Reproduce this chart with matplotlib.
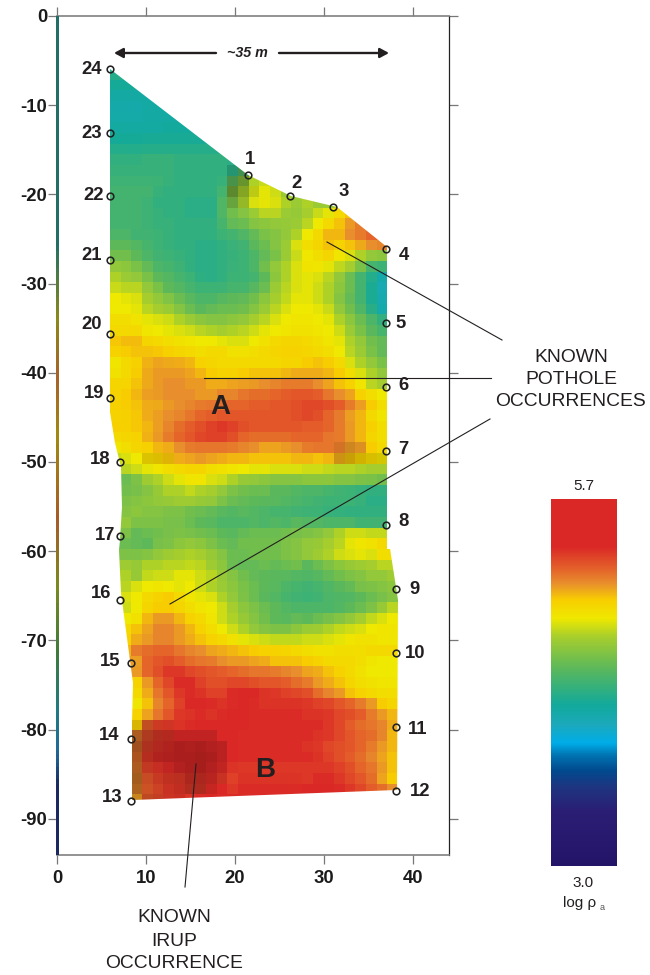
import numpy as np
import matplotlib
matplotlib.use("Agg")
import matplotlib.pyplot as plt
from matplotlib.colors import LinearSegmentedColormap, Normalize, ListedColormap
from matplotlib.patches import Polygon, FancyArrowPatch

plt.rcParams['font.family'] = ['Liberation Sans', 'DejaVu Sans']

log_rho_rows = [
[425,425,425],
[420,420,420,420],
[415,415,415,415,415],
[412,412,412,415,415,415,415],
[413,413,413,415,415,415,415,415],
[416,416,416,416,416,418,418,418,418,418],
[420,420,420,421,421,421,421,421,421,421,421],
[425,425,425,426,426,426,426,426,426,426,426,426],
[430,430,430,432,432,432,430,430,430,430,430,428,432,432],
[432,432,432,432,432,432,430,430,430,430,430,428,442,450,450],
[435,435,435,435,434,432,430,430,430,430,432,445,460,470,475,475],
[437,437,437,437,432,430,430,430,430,430,437,458,468,476,480,476,465,465,465],
[437,437,437,435,430,430,430,428,428,428,441,455,468,478,480,478,470,465,470,465,465,470],
[437,437,437,435,432,430,430,428,428,428,441,452,458,465,472,472,465,463,468,475,480,490,498],
[437,437,437,435,432,432,430,430,430,430,438,448,450,458,460,462,463,465,472,482,490,498,506,512,512],
[440,440,436,436,434,432,430,430,430,430,434,437,441,448,455,458,462,470,482,490,500,500,508,512,518,518],
[446,446,442,438,434,432,430,430,428,428,430,433,436,445,450,458,465,478,488,492,498,494,498,503,508,510],
[452,452,446,440,436,434,432,430,428,428,430,432,434,440,448,455,465,475,483,488,492,484,478,470,462,460],
[462,460,455,448,440,438,435,430,428,428,430,433,434,440,452,462,470,478,485,484,480,473,468,455,438,434],
[470,465,462,455,446,442,438,434,429,428,430,434,434,437,446,460,470,478,480,478,472,462,450,437,425,412],
[475,472,472,462,455,446,442,438,434,434,435,438,438,443,450,465,472,478,480,476,470,460,450,437,422,408],
[482,480,478,468,462,457,450,444,440,440,443,446,447,452,460,468,474,480,480,476,470,458,448,437,422,410],
[482,482,480,472,468,465,458,450,445,448,450,450,452,458,465,472,478,482,482,480,475,462,452,441,427,412],
[488,488,485,480,478,476,470,465,460,458,458,460,462,468,472,478,482,484,484,482,480,470,460,450,440,430],
[490,490,490,484,482,480,478,476,472,470,468,470,472,476,480,482,484,486,486,484,482,476,465,455,445,438],
[497,499,499,492,490,488,486,484,482,482,480,478,478,482,486,490,492,492,490,488,484,480,470,462,452,448],
[494,496,498,498,497,495,492,490,488,490,490,486,486,488,490,492,494,494,492,490,488,482,472,465,455,448],
[484,490,495,501,504,503,502,500,494,492,490,490,490,490,490,490,492,492,496,498,496,490,478,470,462,455],
[486,490,496,503,506,506,506,504,500,496,494,494,496,498,498,498,500,502,502,502,500,496,488,478,470,462],
[492,493,498,503,506,508,508,506,506,502,502,504,505,506,508,510,512,512,512,508,504,498,494,484,472,468],
[494,496,500,505,506,508,508,508,506,506,510,510,514,516,516,518,520,522,522,520,514,508,504,494,488,482],
[495,496,498,502,503,506,508,510,512,514,516,518,518,520,520,522,522,524,526,526,524,520,512,505,496,488],
[494,495,497,502,505,508,510,514,518,520,522,522,522,522,522,522,522,524,526,524,518,512,505,500,490,484],
[495,495,497,500,505,510,516,520,524,528,530,528,524,522,522,522,522,522,520,520,518,512,506,500,495,488],
[490,492,494,501,506,512,518,522,526,528,528,524,518,516,516,516,516,518,518,518,514,512,506,500,492,488],
[484,488,492,495,500,502,508,512,514,514,514,512,510,508,504,504,506,508,512,514,514,512,506,506,496,490],
[475,478,482,490,494,498,502,504,506,504,502,500,500,498,498,498,498,500,500,498,500,502,498,494,490,486],
[470,472,476,480,484,488,490,492,492,488,486,484,482,480,480,478,478,478,476,476,474,472,472,470,468,468],
[450,450,456,466,470,476,480,484,484,478,476,470,464,462,460,458,458,458,460,460,460,458,458,456,455,452],
[452,452,454,458,464,470,470,474,470,468,462,456,452,450,450,445,445,442,440,440,438,436,434,432,430,430],
[456,456,458,460,462,464,466,466,464,462,456,450,448,446,445,444,442,440,438,436,434,434,434,432,428,428],
[458,458,460,458,458,456,456,452,450,448,444,442,444,442,440,438,438,436,435,434,432,431,430,430,430,430],
[462,462,456,456,456,454,454,450,446,444,440,440,440,442,440,442,440,444,442,442,440,440,440,436,436,436],
[456,456,448,450,452,454,456,454,452,450,446,444,448,450,450,450,452,454,456,458,462,470,476,476,474,474],
[450,450,448,446,454,456,460,462,460,456,450,448,452,452,452,452,456,458,462,464,468,472,480,484,486,490],
[456,456,456,458,462,466,468,470,468,464,458,450,450,452,452,452,456,458,462,466,470,476,478,480,478,488,488],
[466,466,464,470,470,472,472,474,472,466,460,450,448,448,450,448,450,452,445,450,456,460,464,466,468,472,472],
[470,470,464,474,476,476,480,480,476,472,464,458,452,448,446,445,444,442,441,443,448,452,456,458,462,462,466],
[472,472,478,482,484,482,480,482,476,470,465,460,455,450,446,444,440,438,436,438,441,445,448,454,456,458,460],
[478,478,482,490,494,496,490,484,480,478,470,462,456,450,445,442,438,436,434,436,440,441,442,446,450,454,458],
[476,476,482,492,496,496,492,488,484,482,476,468,460,456,450,446,442,440,440,440,440,442,446,450,456,464,472],
[482,482,486,500,506,506,500,494,490,484,476,470,464,458,452,446,444,448,446,450,454,458,462,468,474,478,482],
[490,490,498,504,510,510,506,500,494,488,482,476,470,462,458,456,456,460,465,466,470,474,476,478,482,484,484],
[494,494,502,506,510,510,506,502,498,494,490,486,480,478,476,474,474,474,476,476,478,480,484,486,486,484,484],
[500,500,512,516,518,518,514,510,508,504,502,500,498,496,494,494,492,490,488,486,486,488,488,488,490,490,490],
[505,505,505,518,522,524,520,516,514,512,508,506,506,504,502,498,498,498,496,494,490,490,490,488,484,482,482],
[506,506,506,518,524,530,530,526,524,522,520,518,516,514,514,512,510,508,504,502,498,494,490,486,482,482,482],
[494,494,494,506,518,526,534,534,528,524,524,526,526,524,522,522,520,516,512,506,502,498,492,488,486,484,484],
[490,490,490,502,514,522,530,534,532,528,528,534,538,536,532,530,528,526,524,516,510,506,498,494,490,488,488],
[484,484,484,498,510,518,528,536,538,534,532,534,535,534,532,532,532,532,530,528,526,522,518,512,506,496,492],
[494,494,494,504,514,522,530,532,534,532,534,538,536,534,534,534,534,534,532,532,530,526,524,520,512,506,500],
[496,496,496,520,528,530,532,534,538,540,542,540,536,534,534,534,534,534,534,534,530,526,520,516,514,510,502],
[512,512,512,525,530,532,538,542,544,546,544,538,534,534,534,534,534,534,534,532,530,526,522,518,516,510,500],
[515,515,515,528,532,534,542,544,546,544,542,536,534,534,534,534,534,534,532,530,526,524,522,518,512,506,500],
[515,515,515,530,534,536,540,542,542,540,538,536,534,534,534,534,534,534,534,532,528,524,520,516,510,504,498],
[512,512,512,528,532,534,538,538,536,536,534,532,530,530,530,530,530,530,530,530,530,528,524,518,514,506,498],
[510,510,510,522,528,530,530,532,532,534,530,528,532,532,532,532,532,532,530,534,534,530,526,522,516,504,496],
[510,510,510,520,526,530,532,530,530,534,536,530,534,534,534,534,534,534,536,538,536,534,530,526,520,516,508],
[505,505,505,522,526,530,532,532,534,536,534,534,534,534,534,534,534,534,534,534,534,534,532,530,526,520,512],
]

# muted (darker) cells of the printed section: row -> (first column, darkness list)
muted_cells = {
    9: (11, [.15,.2]),
    10: (11, [.2,.25]),
    11: (11, [.3,.2,.08]),
    12: (11, [.15,.1]),
    35: (21, [.08,.12,.06]),
    36: (3, [.1,.1,.08,0,0,0,0,0,0,0,0,0,0,0,0,0,0,0,.15,.18,.15,.12,.12]),
    61: (2, [.12,.15,.08,.06]),
    62: (2, [.25,.22,.2,.18,.12,.12,.12,.12]),
    63: (2, [.3,.22,.2,.2,.22,.2,.22,.18,.15]),
    64: (2, [.25,.18,.2,.2,.22,.22,.24,.22,.15]),
    65: (2, [.25,.12,.1,.12,.18,.22,.24,.18,.12]),
    66: (2, [.3,.12,.1,.13,.16,.22,.22,.16,.1]),
    67: (2, [.25,.1,.08,.1,.12,.2,.22,.1]),
    68: (2, [.16,.16,.12,.08,.08]),
}

# outline of the imaged section (metres, depth negative)
outline_x = [5.96,21.46,26.29,31.46,37.08,37.08,37.53,38.31,38.2,8.43,8.43,8.54,7.19,6.97,7.08,7.3,7.19,6.52,5.96]
outline_y = [-5.94,-17.83,-20.18,-21.41,-25.9,-57.29,-60.43,-65.47,-86.77,-87.89,-79.26,-74.78,-64.69,-59.87,-58.74,-55.04,-50.56,-47.87,-44.39]

# electrodes: number, x, depth
elec_id = list(range(1, 25))
elec_x = [21.5,26.2,31.0,36.96,36.96,36.96,36.96,36.96,38.1,38.1,38.1,38.1,8.3,8.3,8.3,7.08,7.08,7.08,5.96,5.96,5.96,5.96,5.96,5.96]
elec_y = [-17.8,-20.2,-21.4,-26.1,-34.4,-41.6,-48.8,-57.1,-64.2,-71.4,-79.7,-86.9,-88.0,-81.0,-72.5,-65.5,-58.3,-50.0,-42.8,-35.6,-27.4,-20.2,-13.1,-5.94]

# electrode label centres in pixels
elec_lab_px = [(250,159),(297,184),(344,192),(404,255),(401,324),(403,386),(403,450),(404,522),(414,590),(415,654),(418,730),(420,792),
               (112,797),(109,736),(110,662),(101,594),(105,535),(100,459),(94,393),(92,325),(92,256),(94,196),(92,134),(92,69)]

x_ticks = [0,10,20,30,40]
y_ticks = [0,-10,-20,-30,-40,-50,-60,-70,-80,-90]

# colour scale (fraction from top of bar, colour)
scale_stops = [(0,'#DA2826'),(0.13,'#DA2826'),(0.19,'#E4622A'),(0.23,'#E88F2C'),(0.275,'#F7CE00'),(0.325,'#EFE800'),
               (0.375,'#A7CE2C'),(0.46,'#5DB85A'),(0.56,'#12A99A'),(0.615,'#1BA9BB'),(0.665,'#00ADE8'),(0.70,'#0072B0'),
               (0.74,'#004A8E'),(0.785,'#1E3580'),(0.85,'#2A1E74'),(1,'#241468')]
cmap = LinearSegmentedColormap.from_list('rho', [(1-t, c) for t, c in reversed(scale_stops)], N=512)
norm = Normalize(3.0, 5.7)

# thin coloured strip along the left axis
strip_stops = [(0,'#1F6F66'),(0.27,'#1F6F66'),(0.36,'#8A8A18'),(0.43,'#A8602A'),(0.50,'#A08A10'),(0.60,'#A85A25'),
               (0.68,'#7A8A20'),(0.76,'#3F7A3A'),(0.83,'#1F7A80'),(0.88,'#1F6A9A'),(0.92,'#1A2A60'),(1,'#1A2A60')]
strip_cmap = LinearSegmentedColormap.from_list('strip', strip_stops)

W, H = 650, 975
fig = plt.figure(figsize=(6.5, 9.75), dpi=100, facecolor='white')
L, R, T, B = 57, 449, 16, 855
ax = fig.add_axes([L/W, 1-B/H, (R-L)/W, (B-T)/H])
ax.set_xlim(0, 44.04)
ax.set_ylim(-94.06, 0)

nc = 27
vals = np.full((len(log_rho_rows), nc), np.nan)
for i, row in enumerate(log_rho_rows):
    vals[i, :len(row)] = np.array(row) / 100.0
x_edges = 5.955 + 1.199 * np.arange(nc + 1)
y_edges = -5.94 - 1.196 * np.arange(len(log_rho_rows) + 1)
mesh = ax.pcolormesh(x_edges, y_edges, np.ma.masked_invalid(vals), cmap=cmap, norm=norm, shading='flat', antialiased=False, linewidth=0, zorder=2)

shade = np.zeros_like(vals)
for r, (c0, dark) in muted_cells.items():
    shade[r, c0:c0+len(dark)] = dark
black_ramp = np.zeros((256, 4))
black_ramp[:, 3] = np.linspace(0, 1, 256)
shade_mesh = ax.pcolormesh(x_edges, y_edges, shade, cmap=ListedColormap(black_ramp), vmin=0, vmax=1, shading='flat', antialiased=False, linewidth=0, zorder=3)

clip = Polygon(np.column_stack([outline_x, outline_y]), closed=True, transform=ax.transData, fc='none', ec='none')
ax.add_patch(clip)
mesh.set_clip_path(clip)
shade_mesh.set_clip_path(clip)

# left strip
depths = np.linspace(0, 1, 200)
ax.pcolormesh([-0.06, 0.2], np.linspace(0, -94.06, 201), depths[:, None], cmap=strip_cmap, shading='flat', zorder=5, clip_on=False)

for s in ['top', 'bottom']:
    ax.spines[s].set_color('#808080'); ax.spines[s].set_linewidth(1.2)
ax.spines['left'].set_visible(False)
ax.spines['right'].set_color('#222222'); ax.spines['right'].set_linewidth(0.9)
ax.set_xticks(x_ticks)
ax.set_yticks(y_ticks)
ax.set_xticklabels([str(v) for v in x_ticks], fontsize=13.3, fontweight='bold', color='#1a1a1a')
ax.set_yticklabels([str(v) for v in y_ticks], fontsize=13.3, fontweight='bold', color='#1a1a1a', va='center_baseline')
ax.tick_params(axis='both', which='both', top=True, right=True, direction='out', length=6.2, width=0.9, color='#777777')
ax.tick_params(axis='y', pad=1.0)
ax.tick_params(axis='x', pad=4.5)

def fx(px): return px / W
def fy(py): return 1 - py / H

# electrodes
ax.plot(elec_x, elec_y, ls='none', marker='o', ms=4.8, mfc='none', mec='#222222', mew=1.15, zorder=6, clip_on=False)
for n, (px, py) in zip(elec_id, elec_lab_px):
    fig.text(fx(px), fy(py), str(n), ha='center', va='center', fontsize=13.3, fontweight='bold', color='#231f20')

# A / B
fig.text(fx(220), fy(407), 'A', ha='center', va='center', fontsize=20, fontweight='bold', color='#231f20')
fig.text(fx(265), fy(770), 'B', ha='center', va='center', fontsize=20, fontweight='bold', color='#231f20')

# leader lines
for (x0, y0, x1, y1) in [(327,242,502,340),(204,378,491,378),(170,604,490,419),(196,764,185,887)]:
    fig.add_artist(plt.Line2D([fx(x0), fx(x1)], [fy(y0), fy(y1)], color='#231f20', lw=0.8, zorder=8))

# 35 m arrows
for (x0, x1) in [(216, 114), (279, 389)]:
    fig.add_artist(FancyArrowPatch((fx(x0), fy(53)), (fx(x1), fy(53)), transform=fig.transFigure,
                arrowstyle='-|>,head_length=2.4,head_width=1.3', lw=1.7, color='#231f20', shrinkA=0, shrinkB=0, mutation_scale=2.2))
fig.text(fx(247), fy(53), '~35 m', ha='center', va='center', fontsize=10.3, fontweight='bold', style='italic', color='#231f20')

# annotations
for txt, px, py in [('KNOWN',571,358),('POTHOLE',571,380),('OCCURRENCES',571,401),('KNOWN',174,918),('IRUP',174,941),('OCCURRENCE',174,963)]:
    fig.text(fx(px), fy(py), txt, ha='center', va='center', fontsize=13.9, color='#231f20')

# colour bar
cax = fig.add_axes([551/W, 1-866/H, 66/W, 367/H])
levels = np.linspace(3.0, 5.7, 513)
cax.pcolormesh([0, 1], levels, ((levels[:-1] + levels[1:]) / 2)[:, None], cmap=cmap, norm=norm, shading='flat')
cax.set_axis_off()
fig.text(fx(584), fy(486), '5.7', ha='center', va='center', fontsize=11, color='#231f20')
fig.text(fx(583), fy(883), '3.0', ha='center', va='center', fontsize=11, color='#231f20')
fig.text(fx(580), fy(903), 'log ρ', ha='center', va='center', fontsize=11, color='#231f20')
fig.text(fx(602), fy(907), 'a', ha='center', va='center', fontsize=6.5, color='#555555')

fig.savefig('out.png', dpi=100, facecolor='white')
